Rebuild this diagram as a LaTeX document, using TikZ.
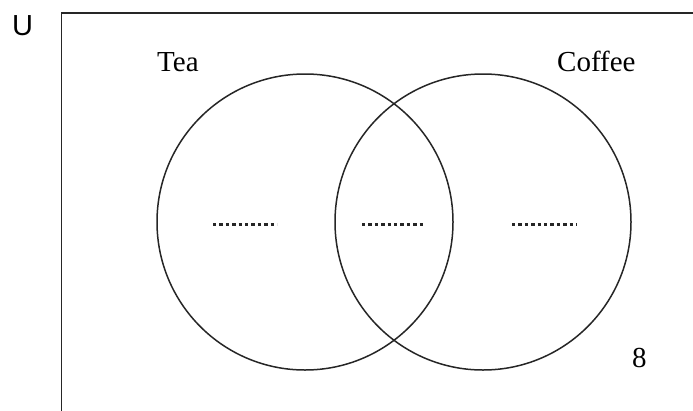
\documentclass[tikz,border=0pt]{standalone}
\usepackage{fontspec}
\setmainfont{Liberation Serif}
\newfontfamily\arialfont{Liberation Sans}
\begin{document}
\begin{tikzpicture}[x=1pt,y=-1pt,
  setline/.style={line width=1.5pt, draw=black!85},
  lbl/.style={anchor=base west, inner sep=0pt, font=\fontsize{29}{32}\selectfont},
  blank/.style={line width=3pt, dash pattern=on 3.4pt off 3pt, draw=black!85}]
\useasboundingbox (0,0) rectangle (693,410);
\clip (0,0) rectangle (693,410);
\draw[setline] (61.5,13) rectangle (710,430);
\node[lbl, font=\arialfont\fontsize{29}{32}\selectfont] (U) at (12,35) {U};
\node[lbl] (tea) at (157,71) {Tea};
\node[lbl] (coffee) at (557,71) {Coffee};
\node[lbl] (eight) at (632,367) {8};
\node[setline, circle, minimum size=296pt, inner sep=0pt] (A) at (305,222) {};
\node[setline, circle, minimum size=296pt, inner sep=0pt] (B) at (483,222) {};
\coordinate (a1) at (213,224); \coordinate (a2) at (277,224);
\coordinate (m1) at (362,224); \coordinate (m2) at (425,224);
\coordinate (b1) at (512,224); \coordinate (b2) at (577,224);
\draw[blank] (a1) -- (a2);
\draw[blank] (m1) -- (m2);
\draw[blank] (b1) -- (b2);
\end{tikzpicture}
\end{document}
